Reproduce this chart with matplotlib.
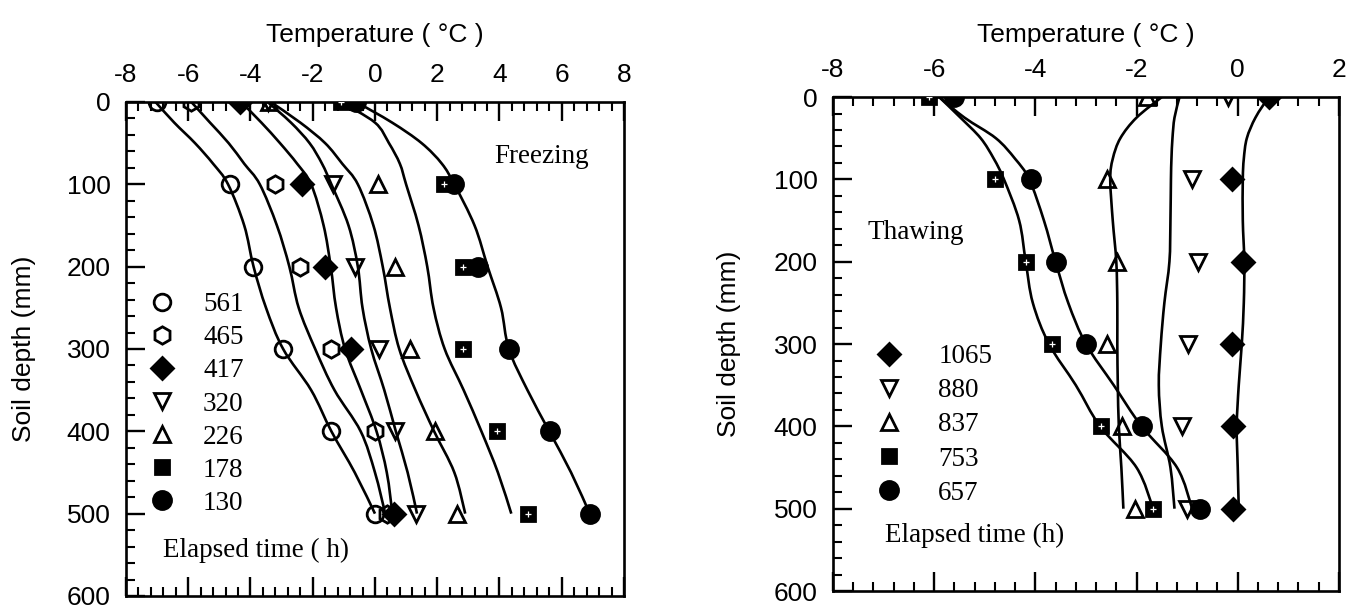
"""Soil temperature profiles during freezing and thawing (two panels)."""
import matplotlib

matplotlib.use("Agg")
import matplotlib.pyplot as plt
import numpy as np
from matplotlib.patches import PathPatch
from matplotlib.path import Path
from matplotlib.ticker import MultipleLocator

plt.rcParams["font.family"] = "Liberation Sans"
plt.rcParams["axes.unicode_minus"] = False
SERIF = "Liberation Serif"
nan = np.nan

marker_depth = [0, 100, 200, 300, 400, 500]
curve_depth = [0, 25, 50, 75, 100, 150, 200, 250, 300, 350, 400, 450, 500]

# --- freezing panel: elapsed time (h) ---
freeze_labels = ["561", "465", "417", "320", "226", "178", "130"]
freeze_obs_561 = [-7.00, -4.66, -3.91, -2.95, -1.40, 0.00]
freeze_obs_465 = [-5.91, -3.21, -2.41, -1.40, 0.00, 0.39]
freeze_obs_417 = [-4.34, -2.36, -1.61, -0.76, nan, 0.62]
freeze_obs_320 = [-3.43, -1.36, -0.63, 0.12, 0.65, 1.33]
freeze_obs_226 = [-3.40, 0.10, 0.63, 1.13, 1.92, 2.62]
freeze_obs_178 = [-1.10, 2.22, 2.84, 2.82, 3.93, 4.93]
freeze_obs_130 = [-0.62, 2.55, 3.32, 4.31, 5.62, 6.91]

freeze_fit_561 = [-7.05, -6.45, -5.78, -5.20, -4.72, -4.20, -3.90, -3.50, -2.95, -2.05, -1.40, -0.65, 0.00]
freeze_fit_465 = [-5.90, -5.30, -4.70, -4.20, -3.70, -3.15, -2.75, -2.45, -1.92, -1.30, -0.46, 0.00, 0.33]
freeze_fit_417 = [-4.30, -3.65, -3.05, -2.50, -2.05, -1.65, -1.42, -1.25, -0.96, -0.45, 0.05, 0.38, 0.56]
freeze_fit_320 = [-3.45, -2.70, -2.10, -1.70, -1.40, -0.85, -0.55, -0.40, -0.12, 0.30, 0.67, 1.05, 1.35]
freeze_fit_226 = [-3.35, -2.40, -1.60, -1.05, -0.55, -0.05, 0.25, 0.48, 0.78, 1.30, 1.90, 2.55, 2.90]
freeze_fit_178 = [-1.10, 0.00, 0.45, 0.80, 1.00, 1.40, 1.68, 1.88, 2.24, 2.85, 3.42, 3.95, 4.38]
freeze_fit_130 = [-0.60, 0.55, 1.50, 2.15, 2.55, 3.20, 3.62, 4.05, 4.30, 4.90, 5.60, 6.30, 6.90]

# --- thawing panel: elapsed time (h) ---
thaw_labels = ["1065", "880", "837", "753", "657"]
thaw_obs_1065 = [0.61, -0.12, 0.11, -0.12, -0.09, -0.09]
thaw_obs_880 = [-0.19, -0.90, -0.79, -0.99, -1.11, -1.01]
thaw_obs_837 = [-1.80, -2.58, -2.39, -2.58, -2.28, -2.03]
thaw_obs_753 = [-6.10, -4.80, -4.19, -3.68, -2.70, -1.67]
thaw_obs_657 = [-5.60, -4.09, -3.60, -3.00, -1.90, -0.75]

thaw_fit_1065 = [0.61, 0.35, 0.18, 0.12, 0.10, 0.10, 0.13, 0.12, 0.08, 0.02, -0.02, 0.00, 0.02]
thaw_fit_880 = [-1.15, -1.25, -1.29, -1.31, -1.32, -1.33, -1.35, -1.45, -1.52, -1.56, -1.50, -1.33, -1.25]
thaw_fit_837 = [-1.50, -2.00, -2.32, -2.47, -2.52, -2.47, -2.40, -2.38, -2.38, -2.37, -2.35, -2.30, -2.26]
thaw_fit_753 = [-5.90, -5.48, -5.08, -4.82, -4.62, -4.32, -4.19, -4.05, -3.73, -3.20, -2.72, -2.00, -1.67]
thaw_fit_657 = [-5.90, -5.40, -4.78, -4.40, -4.12, -3.83, -3.60, -3.35, -3.00, -2.45, -1.90, -1.20, -0.90]

freeze_obs = [freeze_obs_561, freeze_obs_465, freeze_obs_417, freeze_obs_320,
              freeze_obs_226, freeze_obs_178, freeze_obs_130]
freeze_fit = [freeze_fit_561, freeze_fit_465, freeze_fit_417, freeze_fit_320,
              freeze_fit_226, freeze_fit_178, freeze_fit_130]
thaw_obs = [thaw_obs_1065, thaw_obs_880, thaw_obs_837, thaw_obs_753, thaw_obs_657]
thaw_fit = [thaw_fit_1065, thaw_fit_880, thaw_fit_837, thaw_fit_753, thaw_fit_657]

# marker style per series: (marker, filled, size)
STYLE = {
    "561": ("o", False, 12), "465": ("h", False, 12.5), "417": ("D", True, 11.5),
    "320": ("v", False, 12), "226": ("^", False, 12), "178": ("s", True, 10.5),
    "130": ("o", True, 13),
    "1065": ("D", True, 11.5), "880": ("v", False, 12), "837": ("^", False, 12),
    "753": ("s", True, 10.5), "657": ("o", True, 13),
}
SPECKLED = {"178", "753"}
FS = 19
TXT = 19.5


def smooth_path(xs, ys):
    """Bezier path through the read points (Catmull-Rom tangents)."""
    p = np.column_stack([xs, ys]).astype(float)
    verts = [p[0]]
    codes = [Path.MOVETO]
    for i in range(len(p) - 1):
        p0 = p[i - 1] if i > 0 else p[i]
        p3 = p[i + 2] if i + 2 < len(p) else p[i + 1]
        c1 = p[i] + (p[i + 1] - p0) / 6.0
        c2 = p[i + 1] - (p3 - p[i]) / 6.0
        verts += [c1, c2, p[i + 1]]
        codes += [Path.CURVE4] * 3
    return Path(verts, codes)


def draw_panel(ax, labels, obs, fit, xlim):
    for fx in fit:
        ax.add_patch(PathPatch(smooth_path(fx, curve_depth), fc="none",
                               ec="black", lw=1.9, zorder=2))
    handles = []
    for lab, ox in zip(labels, obs):
        m, filled, ms = STYLE[lab]
        h, = ax.plot(ox, marker_depth, ls="none", marker=m, ms=ms, mew=2.0,
                     mec="black", mfc="black" if filled else "none", zorder=3)
        if lab in SPECKLED:
            ax.plot(ox, marker_depth, ls="none", marker="+", ms=4, mew=0.9,
                    color="white", zorder=4)
        handles.append(h)

    ax.set_xlim(*xlim)
    ax.set_ylim(600, 0)
    ax.xaxis.set_major_locator(MultipleLocator(2))
    ax.xaxis.set_minor_locator(MultipleLocator(0.4))
    ax.yaxis.set_major_locator(MultipleLocator(100))
    ax.yaxis.set_minor_locator(MultipleLocator(20))
    ax.tick_params(which="major", direction="in", length=14, width=1.7,
                   top=True, bottom=True, left=True, right=False,
                   labeltop=True, labelbottom=False, labelsize=FS, pad=11)
    ax.tick_params(which="minor", direction="in", length=6.5, width=1.5,
                   top=True, bottom=True, left=True, right=False)
    for sp in ax.spines.values():
        sp.set_linewidth(1.9)

    ax.set_xlabel("Temperature ( °C )", fontsize=FS)
    ax.xaxis.set_label_position("top")
    ax.set_ylabel("Soil depth (mm)", fontsize=FS)
    ax.yaxis.label.set_va("center")
    ax.yaxis.set_label_coords(-0.205, 0.5)
    return handles


fig = plt.figure(figsize=(13.5, 6.1), dpi=100)
ax1 = fig.add_axes([0.0933, 0.0230, 0.3689, 0.8098])
ax2 = fig.add_axes([0.6170, 0.0311, 0.3748, 0.8098])

h1 = draw_panel(ax1, freeze_labels, freeze_obs, freeze_fit, (-8, 8))
h2 = draw_panel(ax2, thaw_labels, thaw_obs, thaw_fit, (-8, 2))
ax1.xaxis.set_label_coords(0.5, 1.121)
ax2.xaxis.set_label_coords(0.5, 1.111)

ax1.legend(h1, freeze_labels, loc="upper left", bbox_to_anchor=(0.046, 0.615),
           frameon=False, prop={"family": SERIF, "size": TXT}, handlelength=1.0,
           handletextpad=1.0, labelspacing=0.30, borderpad=0, borderaxespad=0,
           numpoints=1)
ax2.legend(h2, thaw_labels, loc="upper left", bbox_to_anchor=(0.085, 0.500),
           frameon=False, prop={"family": SERIF, "size": TXT}, handlelength=1.0,
           handletextpad=1.3, labelspacing=0.34, borderpad=0, borderaxespad=0,
           numpoints=1)

ax1.text(0.739, 0.889, "Freezing", transform=ax1.transAxes, family=SERIF,
         size=TXT, va="center", ha="left")
ax1.text(0.074, 0.093, "Elapsed time ( h)", transform=ax1.transAxes, family=SERIF,
         size=TXT, va="center", ha="left")
ax2.text(0.068, 0.725, "Thawing", transform=ax2.transAxes, family=SERIF,
         size=TXT, va="center", ha="left")
ax2.text(0.103, 0.113, "Elapsed time (h)", transform=ax2.transAxes, family=SERIF,
         size=TXT, va="center", ha="left")

fig.savefig("out.png", dpi=100)
plt.close(fig)
